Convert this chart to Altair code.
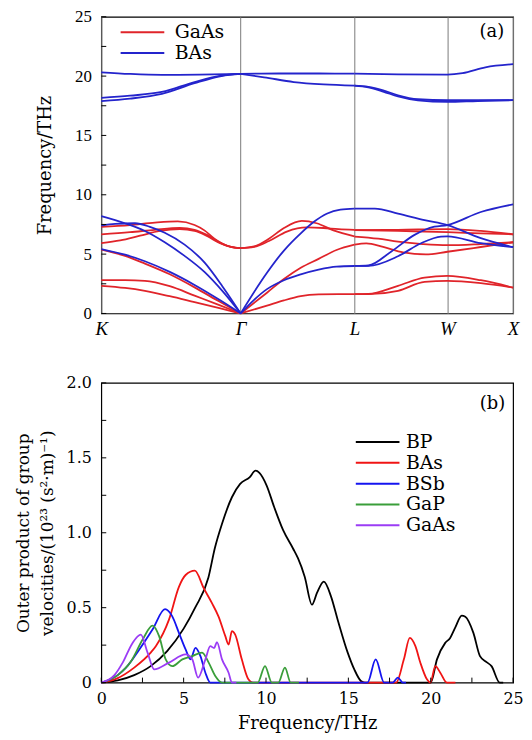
import altair as alt
import pandas as pd

# ---------------- Panel (a): phonon dispersion ----------------
SYM_POS = [0.0, 1.0607, 1.9267, 2.6338, 3.1338]
SYM_LABELS = ["K", "Γ", "L", "W", "X"]

# GaAs branches, [k, THz]
gaas_kg = [
    [[0, 7.3], [0.219, 7.45], [0.408, 7.65], [0.582, 7.75], [0.710, 7.45], [0.785, 7.0], [0.861, 6.3], [0.959, 5.7], [1.0607, 5.5]],
    [[0, 6.67], [0.219, 6.85], [0.408, 7.05], [0.597, 7.2], [0.710, 7.05], [0.808, 6.6], [0.899, 6.0], [0.989, 5.6], [1.0607, 5.5]],
    [[0, 5.92], [0.144, 6.15], [0.295, 6.55], [0.446, 6.95], [0.597, 7.1], [0.710, 6.95], [0.808, 6.5], [0.899, 5.95], [0.989, 5.6], [1.0607, 5.5]],
    [[0, 5.37], [0.181, 4.85], [0.332, 4.2], [0.521, 3.3], [0.710, 2.2], [0.899, 1.0], [1.0607, 0]],
    [[0, 2.8], [0.181, 2.8], [0.332, 2.75], [0.521, 2.3], [0.710, 1.5], [0.899, 0.7], [1.0607, 0]],
    [[0, 2.33], [0.181, 2.15], [0.332, 1.9], [0.521, 1.45], [0.710, 0.95], [0.899, 0.45], [1.0607, 0]],
]
gaas_gl = [
    [[1.0607, 5.5], [1.163, 5.65], [1.276, 6.3], [1.390, 7.2], [1.526, 7.8], [1.639, 7.6], [1.767, 7.0], [1.9267, 6.5]],
    [[1.0607, 5.5], [1.163, 5.6], [1.276, 6.1], [1.412, 6.9], [1.563, 7.25], [1.692, 7.2], [1.805, 7.1], [1.9267, 7.05]],
    [[1.0607, 0], [1.261, 1.75], [1.390, 2.9], [1.518, 3.85], [1.654, 4.6], [1.790, 5.35], [1.9267, 5.8]],
    [[1.0607, 0], [1.261, 0.66], [1.390, 1.1], [1.518, 1.45], [1.654, 1.6], [1.805, 1.63], [1.9267, 1.63]],
]
gaas_lx = [
    [[1.9267, 7.03], [2.258, 7.05], [2.6338, 7.1], [2.888, 6.95], [3.1338, 6.67]],
    [[1.9267, 7.03], [2.258, 6.95], [2.6338, 6.85], [2.888, 6.75], [3.1338, 6.67]],
    [[1.9267, 6.48], [2.107, 6.3], [2.258, 6.05], [2.447, 5.85], [2.6338, 5.75], [2.888, 5.85], [3.1338, 6.0]],
    [[1.9267, 5.8], [2.017, 5.9], [2.145, 5.6], [2.296, 5.15], [2.470, 4.97], [2.6338, 5.2], [2.888, 5.6], [3.1338, 6.0]],
    [[1.9267, 1.63], [2.032, 1.65], [2.258, 2.33], [2.460, 3.02], [2.6338, 3.16], [2.888, 2.8], [3.1338, 2.18]],
    [[1.9267, 1.63], [2.032, 1.63], [2.258, 1.91], [2.460, 2.66], [2.6338, 2.74], [2.888, 2.55], [3.1338, 2.18]],
]

# BAs branches, [k, THz]
bas_kg = [
    [[0, 8.2], [0.181, 7.6], [0.332, 6.95], [0.483, 6.0], [0.634, 4.85], [0.785, 3.5], [0.921, 1.9], [1.0607, 0]],
    [[0, 7.4], [0.106, 7.55], [0.257, 7.6], [0.370, 7.3], [0.483, 6.8], [0.634, 5.8], [0.785, 4.3], [0.921, 2.3], [1.0607, 0]],
    [[0, 5.43], [0.181, 4.95], [0.332, 4.4], [0.521, 3.5], [0.710, 2.4], [0.899, 1.15], [1.0607, 0]],
    [[0, 20.32], [0.219, 20.18], [0.461, 20.1], [0.748, 20.12], [1.0607, 20.18]],
    [[0, 18.16], [0.219, 18.35], [0.461, 18.66], [0.710, 19.5], [0.914, 20.04], [1.0607, 20.18]],
    [[0, 17.9], [0.219, 18.1], [0.461, 18.5], [0.710, 19.4], [0.914, 20.0], [1.0607, 20.18]],
]
bas_gl = [
    [[1.0607, 0], [1.261, 3.43], [1.390, 5.3], [1.518, 6.75], [1.616, 7.7], [1.715, 8.4], [1.820, 8.75], [1.9267, 8.83]],
    [[1.0607, 0], [1.163, 1.15], [1.261, 2.05], [1.390, 2.8], [1.518, 3.3], [1.654, 3.7], [1.790, 3.95], [1.9267, 4.0]],
    [[1.0607, 20.18], [1.352, 20.22], [1.654, 20.22], [1.9267, 20.2]],
    [[1.0607, 20.18], [1.239, 19.9], [1.465, 19.5], [1.692, 19.3], [1.9267, 19.2]],
]
bas_lx = [
    [[1.9267, 8.83], [2.082, 8.83], [2.258, 8.41], [2.460, 7.86], [2.6338, 7.45], [2.888, 6.34], [3.1338, 5.59]],
    [[1.9267, 4.0], [2.032, 4.04], [2.208, 5.23], [2.384, 6.62], [2.535, 7.31], [2.6338, 7.45], [2.888, 8.55], [3.1338, 9.19]],
    [[1.9267, 4.0], [2.032, 4.0], [2.258, 4.82], [2.434, 5.92], [2.585, 6.48], [2.6338, 6.5], [2.888, 5.92], [3.1338, 5.59]],
    [[1.9267, 20.2], [2.258, 20.15], [2.6338, 20.13], [2.749, 20.25], [2.923, 20.74], [3.1338, 21.0]],
    [[1.9267, 19.2], [2.032, 19.1], [2.145, 18.8], [2.258, 18.38], [2.409, 18.05], [2.6338, 17.97], [2.863, 17.97], [3.1338, 17.97]],
    [[1.9267, 19.2], [2.032, 19.05], [2.145, 18.7], [2.258, 18.28], [2.409, 17.95], [2.6338, 17.82], [2.863, 17.9], [3.1338, 17.97]],
]

A_YTICKS = [0, 2.5, 5, 7.5, 10, 12.5, 15, 17.5, 20, 22.5, 25]
A_YLABELS = [0, 5, 10, 15, 20, 25]

# ---------------- Panel (b): outer product of group velocities ----------------
bp_f = [0, 1, 2, 3, 4, 5, 5.7, 6.5, 6.9, 7.33, 7.93, 8.43, 9.0, 9.37, 9.6, 10.04, 10.5, 11.04, 11.64, 11.94, 12.35, 12.79, 13.1, 13.51, 13.95, 14.35, 14.96, 15.36, 15.76, 16.0, 20.0, 20.38, 20.88, 21.18, 21.5, 21.88, 22.1, 22.59, 22.99, 23.39, 23.69, 24.19, 24.4]
bp_v = [0, 0.015, 0.05, 0.11, 0.21, 0.36, 0.5, 0.7, 0.9, 1.06, 1.237, 1.326, 1.37, 1.414, 1.40, 1.315, 1.17, 1.017, 0.895, 0.83, 0.707, 0.52, 0.6, 0.674, 0.574, 0.42, 0.2, 0.088, 0.011, 0, 0, 0.155, 0.265, 0.298, 0.37, 0.447, 0.44, 0.332, 0.177, 0.137, 0.11, 0, 0]
bas_f = [0, 1, 2, 3, 3.31, 4.11, 4.72, 5.12, 5.68, 6.22, 6.72, 7.12, 7.53, 7.73, 7.93, 8.13, 8.53, 8.93, 9.2, 17.9, 18.37, 18.73, 19.07, 19.37, 19.77, 19.98, 20.28, 20.58, 20.98, 21.5]
bas_v = [0, 0.03, 0.1, 0.2, 0.243, 0.42, 0.641, 0.718, 0.747, 0.63, 0.53, 0.44, 0.31, 0.254, 0.343, 0.32, 0.155, 0.022, 0, 0, 0.155, 0.298, 0.243, 0.133, 0.022, 0, 0.11, 0.066, 0, 0]
bsb_f = [0, 1, 1.5, 2.31, 3.11, 3.87, 4.31, 4.72, 5.12, 5.42, 5.72, 6.02, 6.32, 6.62, 16.16, 16.66, 17.17, 17.7, 18.0, 18.3, 18.5]
bsb_v = [0, 0.05, 0.1, 0.221, 0.354, 0.49, 0.442, 0.33, 0.221, 0.155, 0.232, 0.177, 0.066, 0, 0, 0.155, 0, 0, 0.033, 0, 0]
gap_f = [0, 1, 1.8, 2.51, 3.11, 3.51, 3.91, 4.31, 4.92, 5.52, 6.12, 6.52, 6.92, 7.33, 9.5, 9.94, 10.35, 10.75, 11.15, 11.5, 12]
gap_v = [0, 0.05, 0.14, 0.287, 0.38, 0.31, 0.155, 0.11, 0.155, 0.177, 0.2, 0.133, 0.044, 0, 0, 0.11, 0, 0, 0.1, 0, 0]
gaas_f = [0, 0.8, 1.3, 1.9, 2.4, 2.81, 3.21, 4.11, 5.12, 5.52, 5.88, 6.32, 6.62, 6.85, 7.02, 7.33, 7.73, 7.93, 8.2]
gaas_v = [0, 0.05, 0.133, 0.265, 0.32, 0.2, 0.088, 0.133, 0.188, 0.155, 0.033, 0.155, 0.243, 0.23, 0.27, 0.155, 0.066, 0, 0]

B_SERIES = ["BP", "BAs", "BSb", "GaP", "GaAs"]
B_COLORS = ["#000000", "#f01414", "#1414f0", "#3a9e3a", "#9b3cf5"]
B_XTICKS = [0, 2.5, 5, 7.5, 10, 12.5, 15, 17.5, 20, 22.5, 25]
B_XLABELS = [0, 5, 10, 15, 20, 25]
B_YTICKS = [0, 0.25, 0.5, 0.75, 1.0, 1.25, 1.5, 1.75, 2.0]
B_YLABELS = [0, 0.5, 1.0, 1.5, 2.0]

SERIF = "DejaVu Serif"
TICKFONT_A = "Liberation Serif"
W, HA, HB = 415, 299, 302

# ---- build panel (a)
rows = []
for mat, segs in (("GaAs", [gaas_kg, gaas_gl, gaas_lx]), ("BAs", [bas_kg, bas_gl, bas_lx])):
    for si, seg in enumerate(segs):
        for bi, br in enumerate(seg):
            for k, f in br:
                rows.append({"material": mat, "branch": f"{mat}-{si}-{bi}", "k": k, "f": f})
df_a = pd.DataFrame(rows)

label_expr_a = ("datum.value < 0.5 ? 'K' : datum.value < 1.5 ? 'Γ' : "
                "datum.value < 2.3 ? 'L' : datum.value < 2.9 ? 'W' : 'X'")

lines_a = alt.Chart(df_a).mark_line(strokeWidth=1.8, interpolate="monotone").encode(
    x=alt.X("k:Q", scale=alt.Scale(domain=[0, SYM_POS[-1]], nice=False, zero=False),
            axis=alt.Axis(values=SYM_POS, labelExpr=label_expr_a, grid=True, gridColor="#7a7a7a",
                          gridWidth=1, ticks=False, tickSize=0, domain=False, title=None,
                          labelFont="Liberation Serif", labelFontStyle="italic", labelFontSize=19,
                          labelPadding=6, labelFlush=False, labelColor="black")),
    y=alt.Y("f:Q", scale=alt.Scale(domain=[0, 25], nice=False),
            axis=alt.Axis(values=A_YLABELS, ticks=False, tickSize=0, domain=False, grid=False,
                          title="Frequency/THz", titleFont=SERIF, titleFontSize=18,
                          titleFontWeight="normal", titlePadding=20, titleColor="black",
                          labelFont=TICKFONT_A, labelFontSize=17, labelPadding=10, labelColor="black")),
    color=alt.Color("material:N",
                    scale=alt.Scale(domain=["GaAs", "BAs"], range=["#e0242a", "#2424cc"]),
                    legend=alt.Legend(title=None, orient="none", legendX=32, legendY=6,
                                      symbolType="M-4,0H4", symbolSize=121, symbolStrokeWidth=2,
                                      labelOffset=23, labelFont=SERIF, labelFontSize=19,
                                      labelColor="black", rowPadding=1, padding=0)),
    detail="branch:N",
)
yt_a = alt.Chart(pd.DataFrame({"f": A_YTICKS})).mark_rule(color="black", strokeWidth=1).encode(
    y=alt.Y("f:Q", axis=None), x=alt.value(0), x2=alt.value(5))
tag_a = alt.Chart(pd.DataFrame({"t": ["(a)"]})).mark_text(
    align="right", baseline="middle", font=SERIF, fontSize=18, color="black").encode(
    text="t:N", x=alt.value(W - 9), y=alt.value(15))
panel_a = alt.layer(lines_a, yt_a, tag_a).resolve_axis(x="independent", y="independent").properties(width=W, height=HA)

# ---- build panel (b)
rows_b = []
for name, fs, vs in (("BP", bp_f, bp_v), ("BAs", bas_f, bas_v), ("BSb", bsb_f, bsb_v),
                     ("GaP", gap_f, gap_v), ("GaAs", gaas_f, gaas_v)):
    for i, (f, v) in enumerate(zip(fs, vs)):
        rows_b.append({"series": name, "order": i, "f": f, "v": v})
df_b = pd.DataFrame(rows_b)

lines_b = alt.Chart(df_b).mark_line(strokeWidth=1.8, interpolate="monotone").encode(
    x=alt.X("f:Q", scale=alt.Scale(domain=[0, 25], nice=False),
            axis=alt.Axis(values=B_XLABELS, ticks=False, tickSize=0, domain=False, grid=False,
                          title="Frequency/THz", titleFont=SERIF, titleFontSize=18,
                          titleFontWeight="normal", titlePadding=8, titleColor="black",
                          labelFont=SERIF, labelFontSize=16, labelPadding=8, labelFlush=False,
                          labelColor="black")),
    y=alt.Y("v:Q", scale=alt.Scale(domain=[0, 2], nice=False),
            axis=alt.Axis(values=B_YLABELS, ticks=False, tickSize=0, domain=False, grid=False,
                          labelExpr="datum.value == 0 ? '0' : format(datum.value, '.1f')",
                          title=["Outer product of group", "velocities/(10²³ (s²·m)⁻¹)"],
                          titleFont=SERIF, titleFontSize=17, titleFontWeight="normal",
                          titleLineHeight=24, titlePadding=10, titleColor="black",
                          labelFont=SERIF, labelFontSize=16, labelPadding=10, labelColor="black")),
    color=alt.Color("series:N", scale=alt.Scale(domain=B_SERIES, range=B_COLORS),
                    legend=alt.Legend(title=None, orient="none", legendX=269, legendY=50,
                                      symbolType="M-4,0H4", symbolSize=121, symbolStrokeWidth=2,
                                      labelOffset=19, labelFont=SERIF, labelFontSize=19,
                                      labelColor="black", rowPadding=1, padding=0)),
    order="order:Q",
)
xt_b = alt.Chart(pd.DataFrame({"f": B_XTICKS})).mark_rule(color="black", strokeWidth=1).encode(
    x=alt.X("f:Q", axis=None), y=alt.value(HB), y2=alt.value(HB - 5))
yt_b = alt.Chart(pd.DataFrame({"v": B_YTICKS})).mark_rule(color="black", strokeWidth=1).encode(
    y=alt.Y("v:Q", axis=None), x=alt.value(0), x2=alt.value(5))
tag_b = alt.Chart(pd.DataFrame({"t": ["(b)"]})).mark_text(
    align="right", baseline="middle", font=SERIF, fontSize=18, color="black").encode(
    text="t:N", x=alt.value(W - 8), y=alt.value(21))
panel_b = alt.layer(lines_b, xt_b, yt_b, tag_b).resolve_axis(x="independent", y="independent").properties(width=W, height=HB)

chart = alt.vconcat(panel_a, panel_b, spacing=35).resolve_scale(color="independent").properties(
    padding={"left": 5, "top": -4, "right": 0, "bottom": 0}
).configure_view(stroke="black", strokeWidth=1.2)

chart.save("out.html", embed_options={"renderer": "svg", "actions": False})
